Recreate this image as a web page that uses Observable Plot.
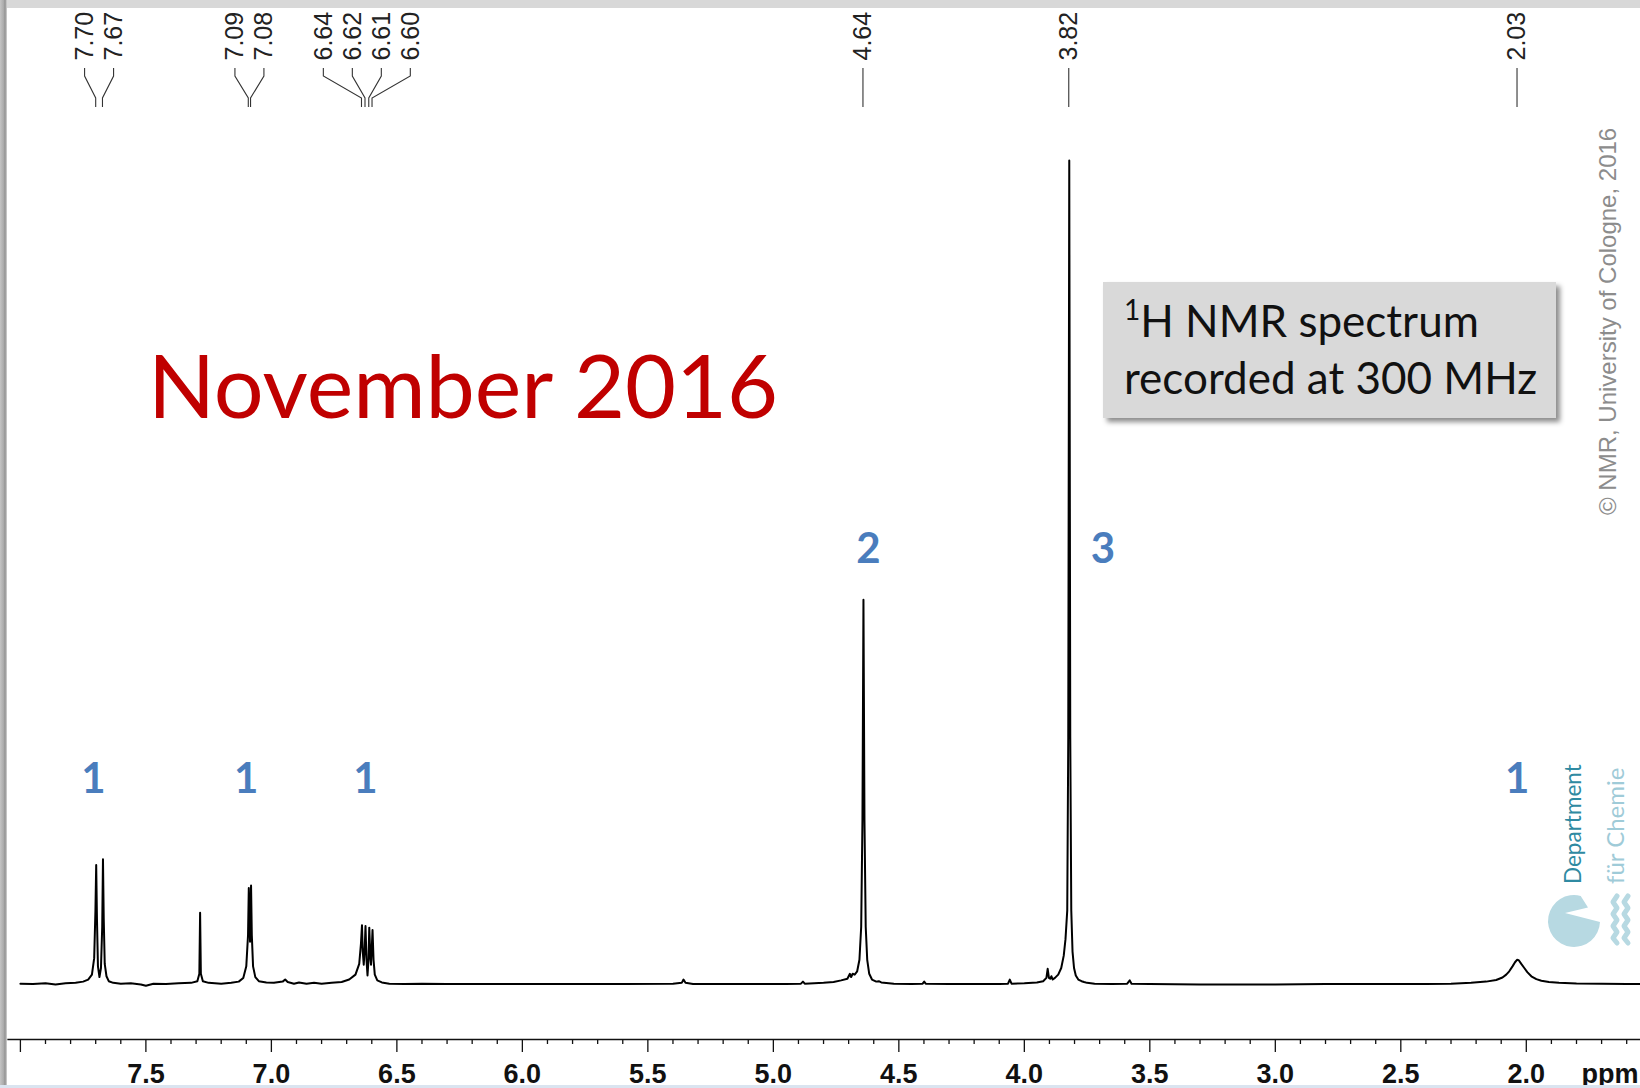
<!DOCTYPE html>
<html>
<head>
<meta charset="utf-8">
<script src="https://cdn.jsdelivr.net/npm/d3@7"></script>
<script src="https://cdn.jsdelivr.net/npm/@observablehq/plot@0.6"></script>
<style>
html, body { margin: 0; padding: 0; background: #fff; }
#wrap { position: relative; width: 1640px; height: 1088px; overflow: hidden; background: #fff; }
#chart svg { display: block; }
.topbar { position: absolute; left: 0; top: 0; width: 1640px; height: 8px; background: #d8d8d8; }
.leftbar { position: absolute; left: 0; top: 0; width: 7px; height: 1088px; background: linear-gradient(to right, #c4c4c4 0, #a8a8a8 4px, #8e8e8e 5px, #d6d6d6 7px); }
.botbar { position: absolute; left: 0; top: 1085px; width: 1640px; height: 3px; background: #dae4f0; }
.title { position: absolute; left: 148px; top: 339px; font-family: Lato, "Open Sans", sans-serif; font-size: 88px; line-height: 90px; color: #c00000; white-space: nowrap; }
.box { position: absolute; left: 1103px; top: 282px; width: 453px; height: 136px; background: #d9d9d9; box-shadow: 4px 4px 5px rgba(0,0,0,0.45); box-sizing: border-box; padding: 10px 0 0 21px; font-family: Lato, "Open Sans", sans-serif; font-size: 44px; line-height: 57px; color: #111; white-space: nowrap; }
.box sup { font-size: 28px; vertical-align: 17px; line-height: 0; }
#overlay { position: absolute; left: 0; top: 0; pointer-events: none; }
</style>
</head>
<body>
<div id="wrap">
  <div id="chart"></div>
  <div class="title">November 2016</div>
  <div class="box"><sup>1</sup>H NMR spectrum<br>recorded at 300 MHz</div>
  <svg id="overlay" width="1640" height="1088">
    <text transform="translate(1616,515) rotate(-90)" font-family="Liberation Sans, Arial, sans-serif" font-size="24" fill="#8c8c8c">© NMR, University of Cologne, 2016</text>
    <text transform="translate(1581,884) rotate(-90)" font-family="Lato, sans-serif" font-size="22.5" fill="#2f8aa2">Department</text>
    <text transform="translate(1624,884) rotate(-90)" font-family="Lato, sans-serif" font-size="24" fill="#9fcbd8">für Chemie</text>
    <path d="M1600,922 A26,26 0 1,1 1580.7,895.9 L1588,907.5 L1565,913 Z" fill="#b7d9e2"/>
    <path d="M1617,896 l-4,6 l4,6 l-4,6 l4,6 l-4,6 l4,6 l-4,6 l4,5" fill="none" stroke="#b7d9e2" stroke-width="5" stroke-linejoin="round" stroke-linecap="round"/>
    <path d="M1628,896 l-4,6 l4,6 l-4,6 l4,6 l-4,6 l4,6 l-4,6 l4,5" fill="none" stroke="#b7d9e2" stroke-width="5" stroke-linejoin="round" stroke-linecap="round"/>
  </svg>
  <div class="topbar"></div>
  <div class="leftbar"></div>
  <div class="botbar"></div>
</div>
<script>
// ---- Spectrum trace (chemical shift in ppm, relative intensity; 3.82 ppm peak = 100) ----
const tracePpm = [
  8.00, 7.95, 7.90, 7.86, 7.82, 7.78, 7.75, 7.73, 7.715, 7.706, 7.701, 7.698, 7.695, 7.691, 7.685,
  7.679, 7.674, 7.671, 7.668, 7.664, 7.657, 7.648, 7.63, 7.60, 7.56, 7.52, 7.50, 7.47, 7.42, 7.37,
  7.32, 7.295, 7.287, 7.284, 7.281, 7.273, 7.25, 7.20, 7.16, 7.13, 7.112, 7.100, 7.093, 7.090, 7.085,
  7.081, 7.078, 7.073, 7.064, 7.05, 7.02, 6.99, 6.955, 6.945, 6.935, 6.91, 6.89, 6.86, 6.83, 6.80,
  6.76, 6.72, 6.69, 6.665, 6.650, 6.643, 6.639, 6.636, 6.632, 6.628, 6.625, 6.621, 6.617, 6.613, 6.610,
  6.606, 6.603, 6.600, 6.597, 6.593, 6.588, 6.578, 6.56, 6.53, 6.47, 6.40, 6.30, 6.20, 6.00, 5.80,
  5.60, 5.40, 5.365, 5.358, 5.350, 5.32, 5.10, 4.95, 4.89, 4.882, 4.875, 4.80, 4.76, 4.73, 4.705,
  4.695, 4.690, 4.684, 4.676, 4.666, 4.657, 4.650, 4.645, 4.641, 4.637, 4.632, 4.626, 4.618, 4.607, 4.59,
  4.58, 4.57, 4.52, 4.45, 4.405, 4.399, 4.393, 4.30, 4.20, 4.10, 4.065, 4.058, 4.051, 4.00, 3.95,
  3.925, 3.912, 3.907, 3.902, 3.897, 3.892, 3.887, 3.878, 3.865, 3.853, 3.843, 3.836, 3.829, 3.825, 3.821,
  3.817, 3.813, 3.808, 3.802, 3.795, 3.785, 3.772, 3.762, 3.75, 3.72, 3.65, 3.59, 3.580, 3.573, 3.50,
  3.30, 3.00, 2.80, 2.60, 2.40, 2.30, 2.22, 2.16, 2.12, 2.095, 2.08, 2.068, 2.055, 2.045, 2.037,
  2.030, 2.020, 2.008, 1.996, 1.98, 1.96, 1.94, 1.91, 1.87, 1.80, 1.70, 1.60, 1.545
];
const traceInt = [
  0.1, 0.05, 0.15, 0.0, 0.15, 0.2, 0.35, 0.6, 1.2, 3.2, 9, 14.5, 8, 2.2, 0.9,
  2.0, 7, 15.2, 8, 2.5, 1.0, 0.4, 0.2, 0.1, 0.15, 0.0, -0.15, 0.1, 0.05, 0.15,
  0.2, 0.4, 1.3, 8.7, 1.3, 0.4, 0.2, 0.1, 0.2, 0.35, 0.8, 2.2, 6, 11.7, 5.2,
  12.0, 6, 2.2, 0.9, 0.4, 0.25, 0.2, 0.35, 0.6, 0.3, 0.1, 0.25, 0.1, 0.2, 0.1,
  0.2, 0.3, 0.6, 1.2, 2.5, 5, 7.2, 4, 2.4, 4.5, 7.1, 3, 1.1, 3, 6.9,
  3.5, 2.4, 4.5, 6.6, 3, 1.2, 0.5, 0.25, 0.1, 0.05, 0.1, 0.05, 0.05, 0.05, 0.05,
  0.05, 0.1, 0.2, 0.6, 0.2, 0.05, 0.05, 0.05, 0.1, 0.35, 0.1, 0.2, 0.3, 0.5, 0.7,
  1.3, 0.9, 1.3, 1.2, 1.6, 3, 7, 20, 46.7, 20, 7, 3, 1.3, 0.6, 0.35,
  0.4, 0.25, 0.1, 0.05, 0.1, 0.35, 0.1, 0.05, 0.05, 0.05, 0.1, 0.6, 0.1, 0.15, 0.25,
  0.4, 0.8, 1.9, 0.8, 0.7, 1.0, 0.6, 0.8, 1.2, 2, 3.5, 5.5, 9, 30, 100,
  30, 9, 4, 2, 1.1, 0.6, 0.4, 0.3, 0.2, 0.1, 0.05, 0.1, 0.5, 0.1, 0.05,
  0.0, 0.0, 0.05, 0.05, 0.05, 0.1, 0.2, 0.35, 0.55, 0.85, 1.2, 1.6, 2.2, 2.7, 3.0,
  2.95, 2.5, 2.0, 1.5, 1.0, 0.65, 0.45, 0.3, 0.2, 0.12, 0.08, 0.05, 0.05
];

// ---- Peak-pick labels at the top ----
const peakLabelText  = ["7.70", "7.67", "7.09", "7.08", "6.64", "6.62", "6.61", "6.60", "4.64", "3.82", "2.03"];
const peakLabelPpm   = [7.698, 7.671, 7.090, 7.081, 6.639, 6.625, 6.610, 6.597, 4.641, 3.821, 2.035];
const peakLabelGroup = [0, 0, 1, 1, 2, 2, 2, 2, 3, 4, 5];

// ---- Integration labels (blue numbers) ----
const integralText = ["1", "1", "1", "2", "3", "1"];
const integralPpm  = [7.709, 7.100, 6.625, 4.621, 3.687, 2.036];
const integralInt  = [24.9, 24.9, 24.9, 52.8, 52.8, 24.9];

// ---- Axis ticks ----
const majorTicks = [8.0, 7.5, 7.0, 6.5, 6.0, 5.5, 5.0, 4.5, 4.0, 3.5, 3.0, 2.5, 2.0];
const minorTicks = [7.9, 7.8, 7.7, 7.6, 7.4, 7.3, 7.2, 7.1, 6.9, 6.8, 6.7, 6.6, 6.4, 6.3, 6.2, 6.1,
  5.9, 5.8, 5.7, 5.6, 5.4, 5.3, 5.2, 5.1, 4.9, 4.8, 4.7, 4.6, 4.4, 4.3, 4.2, 4.1, 3.9, 3.8, 3.7, 3.6,
  3.4, 3.3, 3.2, 3.1, 2.9, 2.8, 2.7, 2.6, 2.4, 2.3, 2.2, 2.1, 1.9, 1.8, 1.7, 1.6];
const axisUnit = "ppm";

// ---- build tables ----
const trace = tracePpm.map((p, i) => ({ppm: p, v: traceInt[i]}));
const labelSpacingPpm = 0.1155; // spread of labels within a multiplet
const groupCenters = {};
peakLabelGroup.forEach((g, i) => { (groupCenters[g] = groupCenters[g] || []).push(peakLabelPpm[i]); });
const peakLabels = peakLabelText.map((t, i) => {
  const g = peakLabelGroup[i];
  const members = groupCenters[g];
  const k = peakLabelGroup.slice(0, i).filter(d => d === g).length;
  const center = d3.mean(members);
  return {text: t, peak: peakLabelPpm[i], pos: center - (k - (members.length - 1) / 2) * labelSpacingPpm};
});
const integrals = integralText.map((t, i) => ({text: t, ppm: integralPpm[i], v: integralInt[i]}));

// connectors from labels down to the peak positions (x via Plot's scale)
function connectors(index, scales) {
  const g = d3.create("svg:g").attr("fill", "none").attr("stroke", "#333").attr("stroke-width", 1.1);
  for (const l of peakLabels) {
    const xt = scales.x(l.pos), xb = scales.x(l.peak);
    g.append("path").attr("d", `M${xt},68V76L${xb},98V107`);
  }
  return g.node();
}

const chart = Plot.plot({
  width: 1640,
  height: 1088,
  marginLeft: 7.35,
  marginRight: 0,
  marginTop: 0,
  marginBottom: 49,
  style: {background: "transparent", overflow: "visible"},
  x: {domain: [8.05, 1.545], axis: null},
  y: {domain: [-6.675, 119.42], axis: null},
  marks: [
    Plot.ruleY([-6.675], {stroke: "#111", strokeWidth: 1.6}),
    Plot.axisX({ticks: minorTicks, tickSize: 5, tickFormat: () => "", stroke: "#111", strokeWidth: 1.3}),
    Plot.axisX({ticks: majorTicks, tickSize: 13, tickPadding: 11, tickFormat: d => d === 8 ? "" : d.toFixed(1),
      fontSize: 27, fontWeight: "bold", fontFamily: "Liberation Sans, Arial, sans-serif", stroke: "#111", strokeWidth: 1.3, fill: "#111", label: null}),
    Plot.text([axisUnit], {text: d => d, frameAnchor: "bottom-right", lineAnchor: "top", textAnchor: "end", dy: 24, dx: -2,
      fontSize: 27, fontWeight: "bold", fontFamily: "Liberation Sans, Arial, sans-serif", fill: "#111"}),
    Plot.line(trace, {x: "ppm", y: "v", stroke: "#000", strokeWidth: 2, strokeLinejoin: "round"}),
    Plot.text(integrals, {x: "ppm", y: "v", text: "text", fill: "#4a7dbd", fontSize: 42, fontWeight: "bold", fontFamily: "Lato, sans-serif"}),
    Plot.text(peakLabels, {x: "pos", text: "text", frameAnchor: "top", dy: 60, dx: -10, rotate: -90, textAnchor: "start",
      fontSize: 25, fontFamily: "Liberation Sans, Arial, sans-serif", fill: "#222"}),
    connectors
  ]
});
document.getElementById("chart").appendChild(chart);
</script>
</body>
</html>
